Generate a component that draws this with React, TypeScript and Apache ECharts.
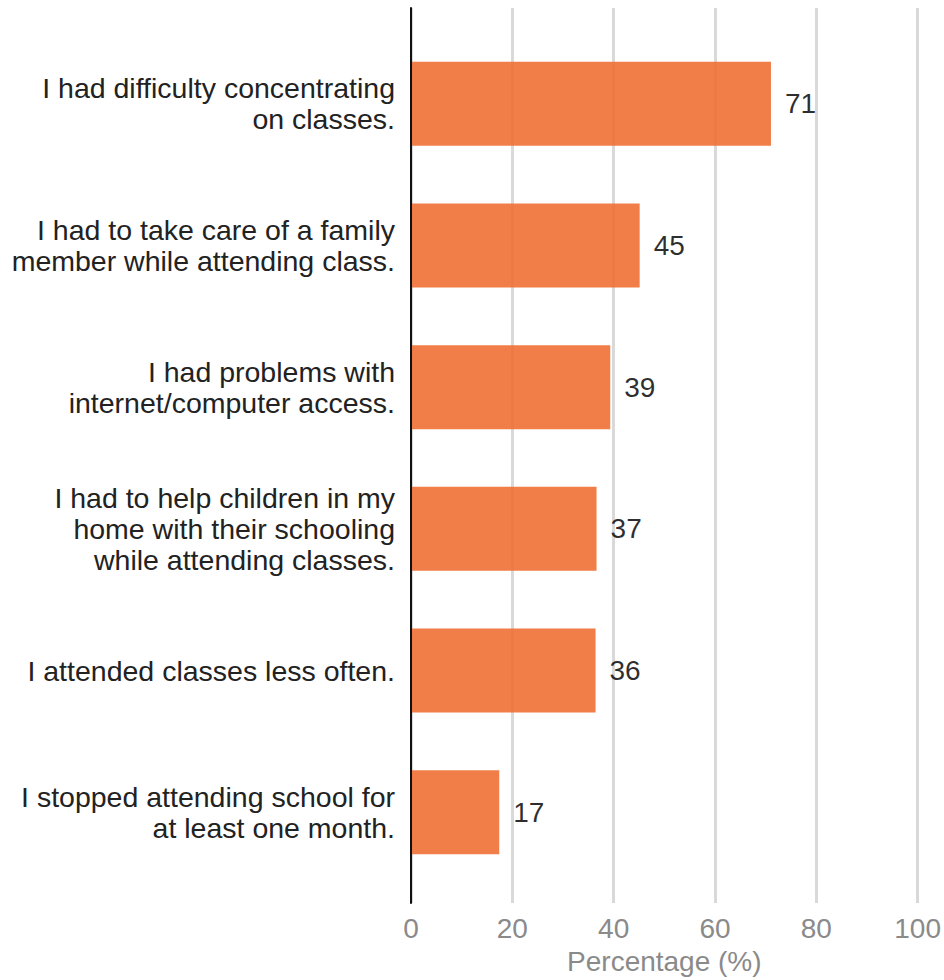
import React, { useEffect, useRef } from "react";
import * as echarts from "echarts";

const categories: string[] = [
  "I had difficulty concentrating\non classes.",
  "I had to take care of a family\nmember while attending class.",
  "I had problems with\ninternet/computer access.",
  "I had to help children in my\nhome with their schooling\nwhile attending classes.",
  "I attended classes less often.",
  "I stopped attending school for\nat least one month.",
];
const values: number[] = [71, 45.1, 39.3, 36.6, 36.4, 17.4];
const xTicks = { min: 0, max: 100, interval: 20 };
const xName = "Percentage (%)";

const FONT = "'Liberation Sans', Arial, sans-serif";

export default function App() {
  const ref = useRef<HTMLDivElement>(null);
  useEffect(() => {
    if (!ref.current) return;
    const chart = echarts.init(ref.current, null, { renderer: "svg" });
    chart.setOption({
      animation: false,
      textStyle: { fontFamily: FONT },
      grid: [
        { left: 411, right: 26, top: 33, bottom: 97, containLabel: false },
        { left: 411, right: 26, top: 8, bottom: 72, containLabel: false },
      ],
      xAxis: [
        {
          type: "value",
          gridIndex: 0,
          min: xTicks.min,
          max: xTicks.max,
          interval: xTicks.interval,
          show: false,
        },
        {
          type: "value",
          gridIndex: 1,
          min: xTicks.min,
          max: xTicks.max,
          interval: xTicks.interval,
          axisLine: { show: false },
          axisTick: { show: false },
          axisLabel: {
            color: "#8a8a8a",
            fontSize: 28,
            margin: 11,
            fontFamily: FONT,
          },
          splitLine: { show: true, lineStyle: { color: "#d9d9d9", width: 3 } },
          name: xName,
          nameLocation: "middle",
          nameGap: 41,
          nameTextStyle: { color: "#8a8a8a", fontSize: 28, fontFamily: FONT },
        },
      ],
      yAxis: [
        {
          type: "category",
          gridIndex: 0,
          data: categories,
          inverse: true,
          axisLine: { show: false },
          axisTick: { show: false },
          splitLine: { show: false },
          axisLabel: {
            color: "#222",
            fontSize: 28.5,
            lineHeight: 31,
            margin: 16,
            fontFamily: FONT,
          },
        },
        {
          type: "value",
          gridIndex: 1,
          min: 0,
          max: 1,
          z: 10,
          axisLine: { show: true, onZero: false, lineStyle: { color: "#111", width: 2 } },
          axisTick: { show: false },
          axisLabel: { show: false },
          splitLine: { show: false },
        },
      ],
      series: [
        {
          type: "bar",
          xAxisIndex: 0,
          yAxisIndex: 0,
          data: values,
          barWidth: 84,
          itemStyle: { color: "#ef6c2f", opacity: 0.88 },
          label: {
            show: true,
            position: "right",
            distance: 14,
            color: "#111",
            fontSize: 28,
            fontFamily: FONT,
            formatter: (p: any) => String(Math.round(p.value)),
          },
        },
      ],
    });
    return () => chart.dispose();
  }, []);
  return (
    <div
      ref={ref}
      style={{ position: "fixed", left: 0, top: 0, width: 944, height: 980, background: "#fff" }}
    />
  );
}
